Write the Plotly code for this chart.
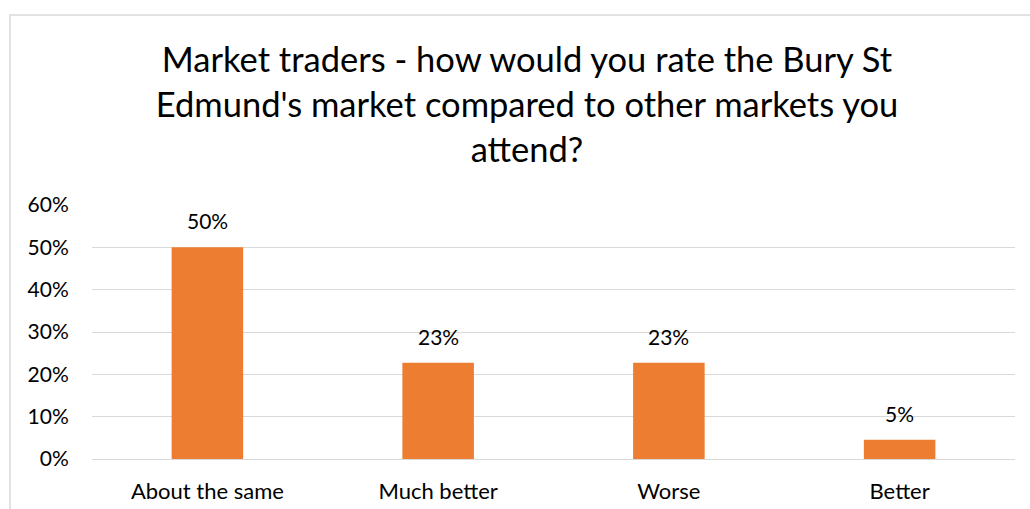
import plotly.graph_objects as go

# Survey responses (share of market traders)
categories = ["About the same", "Much better", "Worse", "Better"]
shares = [22 / 44, 10 / 44, 10 / 44, 2 / 44]
y_ticks = [0, 0.1, 0.2, 0.3, 0.4, 0.5, 0.6]
y_tick_labels = ["0%", "10%", "20%", "30%", "40%", "50%", "60%"]

title_text = ("Market traders - how would you rate the Bury St<br>"
              "Edmund's market compared to other markets you<br>attend?")

FONT = "Lato"
LABEL_SIZE = 21
W, H = 1030, 509
L, R, T, B = 92, 15, 205, 50
plot_w, plot_h = W - L - R, H - T - B

fig = go.Figure(
    go.Bar(
        x=categories,
        y=shares,
        marker=dict(color="#ED7D31", line=dict(width=0)),
        width=0.31,
        hoverinfo="skip",
    )
)

# value labels above each bar
for c, v in zip(categories, shares):
    fig.add_annotation(
        x=c, y=v, text=f"{v:.0%}", showarrow=False,
        yanchor="bottom", yshift=12,
        font=dict(family=FONT, size=LABEL_SIZE, color="#000000"),
    )

# thin chart-area frame
fig.add_shape(
    type="rect", xref="paper", yref="paper",
    x0=(10 - L) / plot_w, x1=(W + 20 - L) / plot_w,
    y0=-(B + 20) / plot_h, y1=(H - B - 15) / plot_h,
    line=dict(color="#d9d9d9", width=1.5), fillcolor="rgba(0,0,0,0)",
    layer="below",
)

fig.update_layout(
    width=W, height=H,
    margin=dict(l=L, r=R, t=T, b=B, autoexpand=False),
    paper_bgcolor="white", plot_bgcolor="white",
    showlegend=False,
    title=dict(
        text=title_text,
        x=527 / W, xanchor="center",
        y=1 - 72 / H, yanchor="top",
        font=dict(family=FONT, size=34.5, color="#000000"),
    ),
    xaxis=dict(
        showgrid=False, showline=False, zeroline=False,
        tickfont=dict(family=FONT, size=22, color="#000000"),
        ticks="outside", ticklen=13, tickcolor="rgba(0,0,0,0)",
        fixedrange=True,
    ),
    yaxis=dict(
        range=[0, 0.6],
        tickvals=y_ticks, ticktext=y_tick_labels,
        showgrid=True, gridcolor="#d9d9d9", gridwidth=1,
        zeroline=True, zerolinecolor="#d9d9d9", zerolinewidth=1,
        showline=False,
        tickfont=dict(family=FONT, size=LABEL_SIZE, color="#000000"),
        ticks="outside", ticklen=18, tickcolor="rgba(0,0,0,0)",
        fixedrange=True,
    ),
)

fig.write_html("out.html", config=dict(displayModeBar=False))
